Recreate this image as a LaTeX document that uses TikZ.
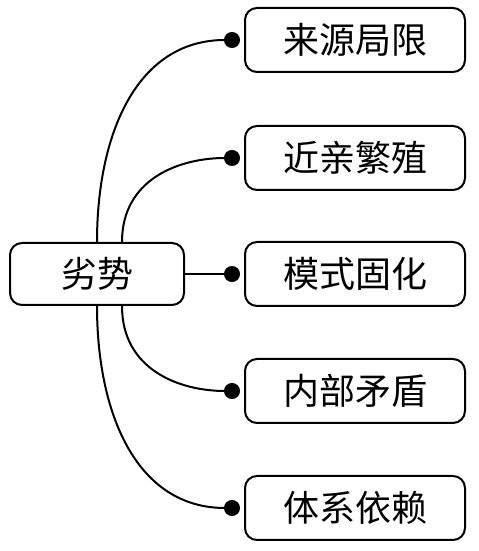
\documentclass[tikz,border=0pt]{standalone}
\usepackage{fontspec}
\newfontfamily\cjk{Noto Sans CJK SC}
\usetikzlibrary{arrows.meta}

\begin{document}
\begin{tikzpicture}[x=0.5pt, y=0.5pt,
		box/.style={draw, line width=1pt, rounded corners=6pt, inner sep=0pt,
			font=\cjk\fontsize{18}{18}\selectfont},
		link/.style={line width=1pt, -{Circle[length=8pt]}, shorten >=2pt}]
			\useasboundingbox (0, 0) rectangle (478, 551);
			\node[box, minimum width=87pt, minimum height=31pt] (weak) at (97, 277) {劣势};
			\foreach \name/\txt/\y in {src/来源局限/511, inbr/近亲繁殖/393, mode/模式固化/277, conf/内部矛盾/160, dep/体系依赖/43}
				\node[box, minimum width=110pt, minimum height=32pt] (\name) at (355, \y) {\txt};
			\draw[link] (weak.north) to[out=90, in=180, looseness=1.1] (src.west);
			\draw[link] ([xshift=12.5pt]weak.north) to[out=90, in=180, looseness=1.1] (inbr.west);
			\draw[link] (weak.east) -- (mode.west);
			\draw[link] ([xshift=12.5pt]weak.south) to[out=-90, in=180, looseness=1.1] (conf.west);
			\draw[link] (weak.south) to[out=-90, in=180, looseness=1.1] (dep.west);
		\end{tikzpicture}
\end{document}
